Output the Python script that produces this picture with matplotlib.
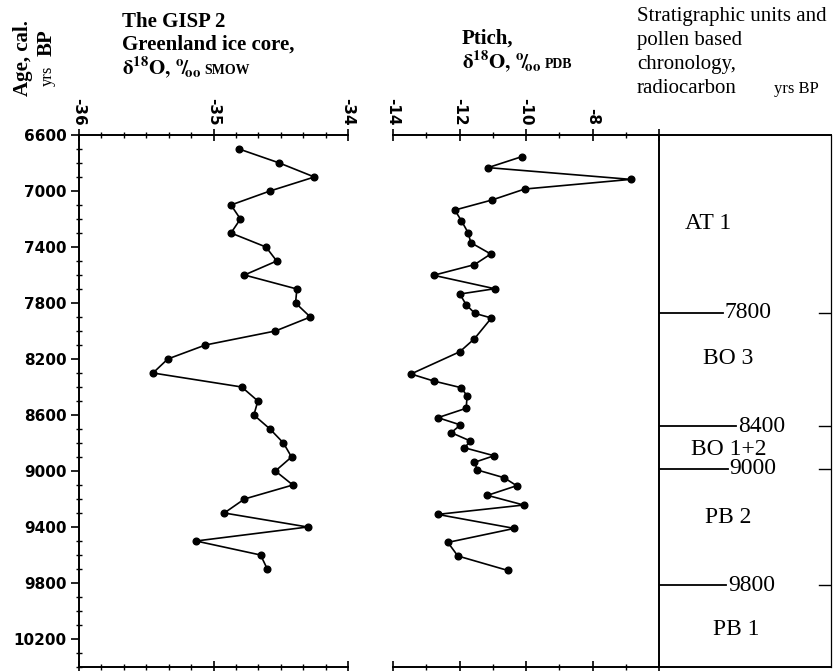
import matplotlib
matplotlib.use("Agg")
import matplotlib.pyplot as plt
from matplotlib.ticker import MultipleLocator

plt.rcParams['mathtext.fontset'] = 'stix'

# GISP 2 Greenland ice core, d18O (SMOW) vs age, cal. yrs BP
gisp_age = [6700, 6800, 6900, 7000, 7100, 7200, 7300, 7400, 7500, 7600, 7700,
            7800, 7900, 8000, 8100, 8200, 8300, 8400, 8500, 8600, 8700, 8800,
            8900, 9000, 9100, 9200, 9300, 9400, 9500, 9600, 9700]
gisp_d18o = [-34.81, -34.51, -34.25, -34.58, -34.87, -34.80, -34.87, -34.61,
             -34.53, -34.77, -34.38, -34.39, -34.28, -34.54, -35.06, -35.34,
             -35.45, -34.79, -34.67, -34.70, -34.58, -34.48, -34.42, -34.54,
             -34.41, -34.77, -34.92, -34.30, -35.13, -34.65, -34.60]

# Ptich, d18O (PDB)
ptich_age = [6755, 6833, 6917, 6986, 7064, 7136, 7214, 7298, 7369, 7450, 7526,
             7602, 7698, 7736, 7812, 7874, 7907, 8055, 8148, 8307, 8357, 8405,
             8464, 8552, 8619, 8671, 8726, 8786, 8834, 8891, 8938, 8993, 9048,
             9105, 9174, 9243, 9310, 9410, 9510, 9607, 9710]
ptich_d18o = [-10.13, -11.14, -6.85, -10.04, -11.02, -12.14, -11.94, -11.74,
              -11.66, -11.06, -11.55, -12.78, -10.94, -11.99, -11.80, -11.54,
              -11.04, -11.55, -11.99, -13.46, -12.78, -11.95, -11.77, -11.80,
              -12.65, -11.97, -12.25, -11.67, -11.85, -10.96, -11.55, -11.46,
              -10.66, -10.28, -11.16, -10.07, -12.66, -10.35, -12.35, -12.05,
              -10.55]

# Stratigraphic units (pollen based chronology, radiocarbon yrs BP)
boundary_ages = [7870, 8680, 8985, 9815]
boundary_labels = ["7800", "8400", "9000", "9800"]
unit_names = ["AT 1", "BO 3", "BO 1+2", "PB 2", "PB 1"]
unit_ages = [7230, 8195, 8850, 9330, 10135]

age_ticks = [6600, 7000, 7400, 7800, 8200, 8600, 9000, 9400, 9800, 10200]
gisp_ticks = [-36, -35, -34]
ptich_ticks = [-14, -12, -10, -8]

W, H = 833, 671
fig = plt.figure(figsize=(W / 100, H / 100), dpi=100)
renderer = fig.canvas.get_renderer()


def fx(px):
    return px / W


def fy(py):
    return 1 - py / H


def text_after(prev, gap, py, s, **kw):
    # place a text right after the previous one, on the same baseline
    x0 = prev.get_window_extent(renderer).x1 + gap
    return fig.text(x0 / W, fy(py), s, **kw)


top, bot = 135, 667
ax1 = fig.add_axes([fx(79), fy(bot), fx(348 - 79), (bot - top) / H])
ax2 = fig.add_axes([fx(393), fy(bot), fx(659 - 393), (bot - top) / H])
ax3 = fig.add_axes([fx(659), fy(bot), fx(831 - 659), (bot - top) / H])

tick_font = dict(family='DejaVu Sans', weight='bold', size=11)

for ax in (ax1, ax2, ax3):
    ax.set_ylim(10400, 6600)
    ax.set_facecolor('none')
    for s in ax.spines.values():
        s.set_linewidth(1.4)

mk = dict(color='black', lw=1.2, marker='o', markersize=4.8)

# GISP 2 panel
ax1.plot(gisp_d18o, gisp_age, **mk)
ax1.set_xlim(-36, -34)
ax1.spines['right'].set_visible(False)
ax1.set_yticks(age_ticks)
ax1.yaxis.set_minor_locator(MultipleLocator(100))
ax1.set_yticklabels([str(t) for t in age_ticks], **tick_font)
ax1.tick_params(axis='y', which='major', direction='out', length=6, width=1.2, pad=3)
ax1.tick_params(axis='y', which='minor', direction='inout', length=4, width=1)
ax1.set_xticks(gisp_ticks)
ax1.xaxis.set_minor_locator(MultipleLocator(1 / 6))
ax1.set_xticklabels([str(t) for t in gisp_ticks], rotation=-90, **tick_font)

# Ptich panel
ax2.plot(ptich_d18o, ptich_age, **mk)
ax2.set_xlim(-14, -6)
ax2.spines['left'].set_visible(False)
ax2.spines['right'].set_visible(False)
ax2.set_yticks([])
ax2.set_xticks(ptich_ticks + [-6])
ax2.xaxis.set_minor_locator(MultipleLocator(1))
ax2.set_xticklabels([str(t) for t in ptich_ticks] + [""], rotation=-90, **tick_font)

for ax in (ax1, ax2):
    ax.xaxis.set_ticks_position('both')
    ax.xaxis.set_label_position('top')
    ax.tick_params(axis='x', which='both', labeltop=True, labelbottom=False, pad=3)
    ax.tick_params(axis='x', which='major', direction='inout', length=8, width=1.2)
    ax.tick_params(axis='x', which='minor', direction='inout', length=4, width=1)

# Stratigraphic column
ax3.set_xlim(0, 1)
ax3.set_xticks([])
ax3.set_yticks([])
ax3.spines['right'].set_linewidth(0.9)
line_ends = [0.37, 0.45, 0.40, 0.39]
for age, lab, xe in zip(boundary_ages, boundary_labels, line_ends):
    ax3.plot([0, xe], [age, age], color='black', lw=1.3)
    ax3.plot([0.93, 1.0], [age, age], color='black', lw=1.0)
    ax3.text(xe + 0.01, age, lab, ha='left', va='center',
             family='Liberation Serif', size=17)
unit_x = [0.285, 0.40, 0.405, 0.40, 0.45]
for name, age, ux in zip(unit_names, unit_ages, unit_x):
    ax3.text(ux, age, name, ha='center', va='center',
             family='Liberation Serif', size=17)

# Headers
hdr = dict(family='Liberation Serif', weight='bold', size=15, va='baseline')
small = dict(family='Liberation Serif', weight='bold', size=10, va='baseline')
permil = r"$\mathbf{{}^{o}\!/\!_{oo}}$"
fig.text(fx(122), fy(27), "The GISP 2", **hdr)
fig.text(fx(122), fy(50), "Greenland ice core,", **hdr)
t = fig.text(fx(122), fy(74), r"$\mathbf{\delta^{18}O,}$", **hdr)
t = text_after(t, 4, 74, permil, **hdr)
text_after(t, 3, 74, "SMOW", **small)

fig.text(fx(462), fy(44), "Ptich,", **hdr)
t = fig.text(fx(462), fy(68), r"$\mathbf{\delta^{18}O,}$", **hdr)
t = text_after(t, 4, 68, permil, **hdr)
text_after(t, 3, 68, "PDB", **small)

reg = dict(family='Liberation Serif', size=15, va='baseline')
fig.text(fx(637), fy(21), "Stratigraphic units and", **reg)
fig.text(fx(637), fy(45), "pollen based", **reg)
fig.text(fx(637), fy(69), "chronology,", **reg)
fig.text(fx(637), fy(93), "radiocarbon", **reg)
fig.text(fx(774), fy(93), "yrs BP", family='Liberation Serif', size=12,
         va='baseline')

# Age axis label
fig.text(fx(23), fy(58), "Age, cal.", rotation=90, ha='center', va='center',
         family='Liberation Serif', weight='bold', size=15)
fig.text(fx(47), fy(43), "BP", rotation=90, ha='center', va='center',
         family='Liberation Serif', weight='bold', size=15)
fig.text(fx(48), fy(76), "yrs", rotation=90, ha='center', va='center',
         family='Liberation Serif', size=12)

fig.savefig("out.png", dpi=100)
